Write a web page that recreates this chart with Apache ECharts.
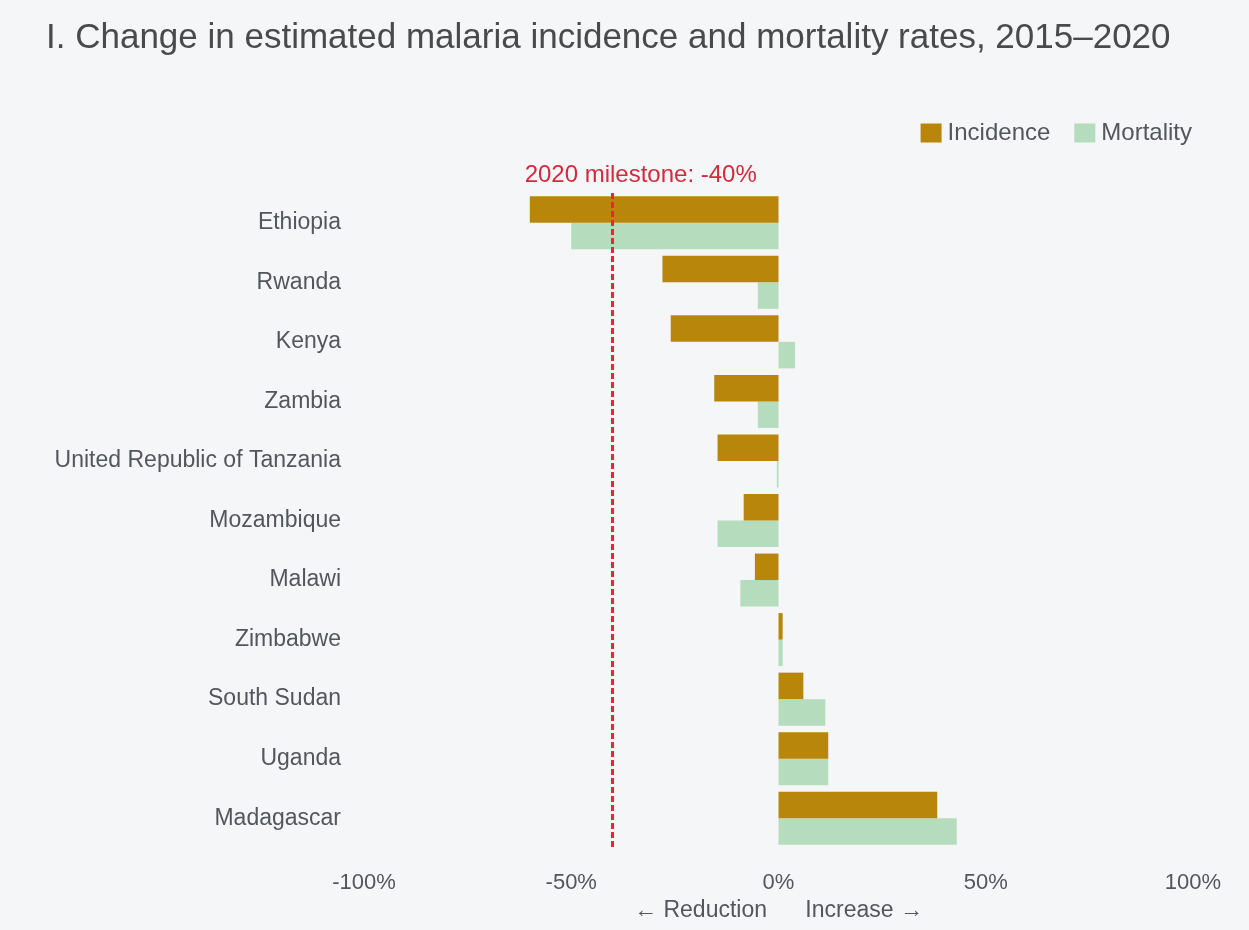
<!DOCTYPE html>
<html>
<head>
<meta charset="utf-8">
<script src="https://cdn.jsdelivr.net/npm/echarts@6/dist/echarts.min.js"></script>
<style>
html,body{margin:0;padding:0;background:#f5f6f8;}
#c{width:1249px;height:930px;}
</style>
</head>
<body>
<div id="c"></div>
<script>
const countries = ["Ethiopia","Rwanda","Kenya","Zambia","United Republic of Tanzania","Mozambique","Malawi","Zimbabwe","South Sudan","Uganda","Madagascar"];
const incidence = [-60, -28, -26, -15.5, -14.7, -8.4, -5.7, 1, 6, 12, 38.3];
const mortality = [-50, -5, 4, -5, -0.4, -14.7, -9.2, 1, 11.3, 12, 43];
const xTicks = [-100, -50, 0, 50, 100];
const milestone = -40;
const titleText = "I. Change in estimated malaria incidence and mortality rates, 2015\u20132020";
const milestoneText = "2020 milestone: -40%";
const axisName = "\u2190 Reduction      Increase \u2192";

const FONT = "'Liberation Sans', Arial, sans-serif";
const TXT = "#53565b";

const chart = echarts.init(document.getElementById('c'), null, {renderer:'canvas'});
chart.setOption({
  backgroundColor: '#f5f6f8',
  animation: false,
  textStyle: {fontFamily: FONT},
  title: {
    text: titleText,
    left: 41, top: 16,
    textStyle: {fontFamily: FONT, fontSize: 35, fontWeight: 'normal', color: '#4a4a4a'}
  },
  legend: {
    right: 52, top: 116,
    itemWidth: 21, itemHeight: 19, itemGap: 24,
    icon: 'rect',
    textStyle: {fontFamily: FONT, fontSize: 24, color: TXT, padding: [0,0,0,1]},
    data: ['Incidence','Mortality']
  },
  grid: {left: 364, right: 56, top: 193, bottom: 82},
  xAxis: {
    type: 'value', min: xTicks[0], max: xTicks[xTicks.length-1], interval: 50,
    axisLine: {show: false}, axisTick: {show: false}, splitLine: {show: false},
    axisLabel: {formatter: v => v + '%', fontSize: 22, color: TXT, margin: 24, fontFamily: FONT},
    name: axisName, nameLocation: 'middle', nameGap: 51,
    nameTextStyle: {fontSize: 23, color: TXT, fontFamily: FONT}
  },
  yAxis: {
    type: 'category', data: countries, inverse: true,
    axisLine: {show: false}, axisTick: {show: false}, splitLine: {show: false},
    axisLabel: {fontSize: 23, color: TXT, margin: 23, fontFamily: FONT}
  },
  series: [
    {
      name: 'Incidence', type: 'bar', data: incidence,
      barGap: '0%', barCategoryGap: '11%',
      itemStyle: {color: '#b8860b'},
      markLine: {
        symbol: ['none','none'], silent: true,
        lineStyle: {color: '#e8233a', type: [6, 3], width: 3},
        label: {show: true, position: 'start', formatter: milestoneText, color: '#d42a3c', fontSize: 24, fontFamily: FONT, distance: 6, offset: [28, 0]},
        data: [{xAxis: milestone}]
      },
      z: 2
    },
    {
      name: 'Mortality', type: 'bar', data: mortality,
      itemStyle: {color: '#b5dcbd'},
      z: 1
    }
  ]
});
</script>
</body>
</html>
